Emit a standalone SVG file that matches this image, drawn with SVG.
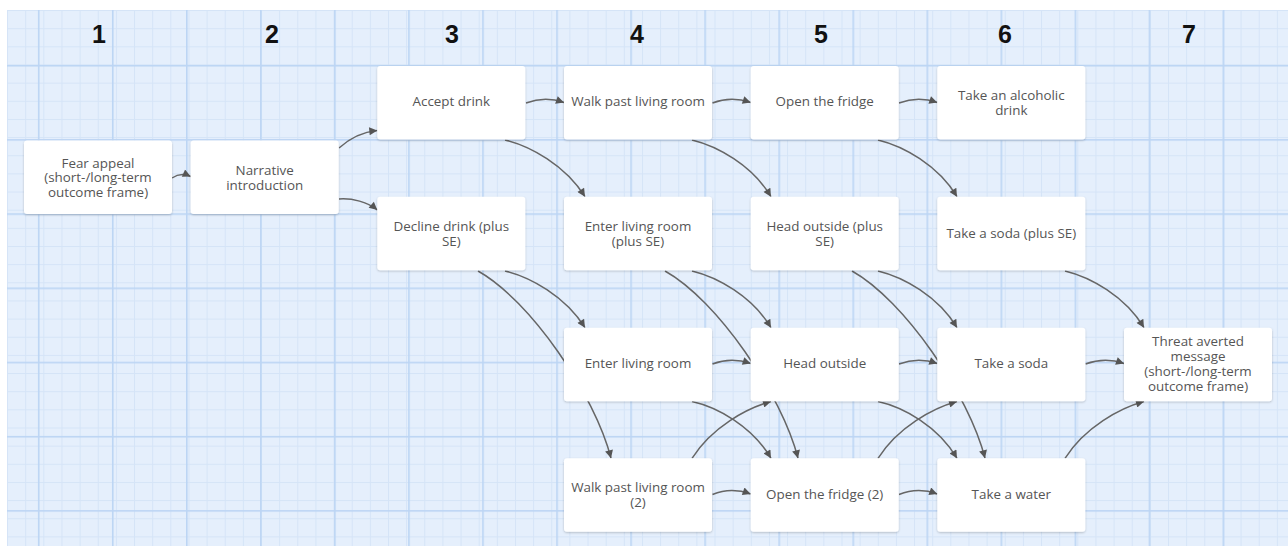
<svg xmlns="http://www.w3.org/2000/svg" width="1288" height="546" viewBox="0 0 1288 546">
<defs>
<style>
.hdr{font-family:"Liberation Sans",Arial,sans-serif;font-weight:bold;font-size:25px;fill:#111;text-anchor:middle}
.box{fill:#fff;filter:url(#sh)}
.lbl{font-family:"Open Sans","DejaVu Sans",sans-serif;font-size:13.4px;fill:#555;text-anchor:middle}
.cn path{fill:none;stroke:#666;stroke-width:1.5;marker-end:url(#ah)}
</style>
<filter id="sh" x="-10%" y="-10%" width="120%" height="130%">
<feDropShadow dx="0" dy="1" stdDeviation="0.8" flood-color="#000" flood-opacity="0.22"/>
</filter>
<marker id="ah" viewBox="0 0 10 10" refX="10" refY="5" markerUnits="userSpaceOnUse" markerWidth="10" markerHeight="8" orient="auto">
<path d="M0,0 L10,5 L0,10 z" fill="#555"/>
</marker>
<pattern id="minor" patternUnits="userSpaceOnUse" x="25.2" y="28.2" width="18.14" height="18.15">
<rect x="0" y="0" width="1" height="18.15" fill="#d5e4f7"/>
<rect x="0" y="0" width="18.14" height="1" fill="#d5e4f7"/>
</pattern>
<pattern id="major" patternUnits="userSpaceOnUse" x="37.9" y="64.9" width="74.05" height="74.2">
<rect x="0" y="0" width="1.6" height="74.2" fill="#bcd5f4"/>
<rect x="0" y="0" width="74.05" height="1.6" fill="#bcd5f4"/>
</pattern>
</defs>
<rect x="0" y="0" width="1288" height="546" fill="#ffffff"/>
<rect x="7" y="10" width="1281" height="536" fill="#e5effc"/>
<rect x="7" y="10" width="1281" height="536" fill="url(#minor)"/>
<rect x="7" y="10" width="1281" height="536" fill="url(#major)"/>

<g id="headers">
<text class="hdr" x="99" y="43">1</text>
<text class="hdr" x="272" y="43">2</text>
<text class="hdr" x="452" y="43">3</text>
<text class="hdr" x="637" y="43">4</text>
<text class="hdr" x="821" y="43">5</text>
<text class="hdr" x="1005" y="43">6</text>
<text class="hdr" x="1189" y="43">7</text>
</g>

<g id="connectors" class="cn">
<path d="M172,178 Q181,172 190.7,176.5"/>
<path d="M339,148 C350,138 362,132 377.3,130.5"/>
<path d="M339,199 C352,198 368,202 377.3,210"/>
<path d="M526,103 Q545,96 564,102.5"/>
<path d="M712.5,103 Q731,96 750.7,102.5"/>
<path d="M899,103 Q918,96 937.3,102.5"/>
<path d="M505,140 C530,146 565,165 585,196.7"/>
<path d="M692,140 C717,146 752,165 771,196.7"/>
<path d="M878,140 C903,146 938,165 957,196.7"/>
<path d="M505,271 C530,277 565,296 585,327.7"/>
<path d="M692,271 C717,277 752,296 771,327.7"/>
<path d="M878,271 C903,277 938,296 957,327.7"/>
<path d="M1065,271 C1090,277 1125,296 1144,327.7"/>
<path d="M478,271 C530,300 595,395 611,458.3"/>
<path d="M665,271 C717,300 782,395 798,458.3"/>
<path d="M852,271 C904,300 969,395 985,458.3"/>
<path d="M712.5,364 Q731,357 750.7,363.5"/>
<path d="M899,364 Q918,357 937.3,363.5"/>
<path d="M1085.5,364 Q1105,357 1124,363.5"/>
<path d="M692,401.5 C717,407 752,426 771,458.3"/>
<path d="M878,401.5 C903,407 938,426 957,458.3"/>
<path d="M692,458.3 C712,427 747,408 771,401.5"/>
<path d="M878,458.3 C898,427 933,408 957,401.5"/>
<path d="M1065,458.3 C1085,427 1120,408 1144,401.5"/>
<path d="M712.5,494.5 Q731,487 750.7,494"/>
<path d="M899,494.5 Q918,487 937.3,494"/>
</g>

<g id="n-fear"><rect class="box" x="24" y="140.5" width="148" height="73.5" rx="3"/>
<text class="lbl" x="98" y="167.7">Fear appeal<tspan x="98" dy="14.7">(short-/long-term</tspan><tspan x="98" dy="14.7">outcome frame)</tspan></text></g>
<g id="n-narrative"><rect class="box" x="190.7" y="140.5" width="148" height="73.5" rx="3"/>
<text class="lbl" x="264.7" y="174.7">Narrative<tspan x="264.7" dy="15">introduction</tspan></text></g>

<g id="n-accept"><rect class="box" x="377.3" y="66" width="148" height="73.5" rx="3"/>
<text class="lbl" x="451.3" y="106.4">Accept drink</text></g>
<g id="n-decline"><rect class="box" x="377.3" y="196.7" width="148" height="73.5" rx="3"/>
<text class="lbl" x="451.3" y="230.7">Decline drink (plus<tspan x="451.3" dy="15">SE)</tspan></text></g>

<g id="n-walkpast"><rect class="box" x="564" y="66" width="148" height="73.5" rx="3"/>
<text class="lbl" x="638" y="106.4">Walk past living room</text></g>
<g id="n-enterse"><rect class="box" x="564" y="196.7" width="148" height="73.5" rx="3"/>
<text class="lbl" x="638" y="230.7">Enter living room<tspan x="638" dy="15">(plus SE)</tspan></text></g>
<g id="n-enter"><rect class="box" x="564" y="327.7" width="148" height="73.5" rx="3"/>
<text class="lbl" x="638" y="368">Enter living room</text></g>
<g id="n-walkpast2"><rect class="box" x="564" y="458.3" width="148" height="73.5" rx="3"/>
<text class="lbl" x="638" y="491.6">Walk past living room<tspan x="638" dy="15">(2)</tspan></text></g>

<g id="n-fridge"><rect class="box" x="750.7" y="66" width="148" height="73.5" rx="3"/>
<text class="lbl" x="824.7" y="106.4">Open the fridge</text></g>
<g id="n-outsidese"><rect class="box" x="750.7" y="196.7" width="148" height="73.5" rx="3"/>
<text class="lbl" x="824.7" y="230.7">Head outside (plus<tspan x="824.7" dy="15">SE)</tspan></text></g>
<g id="n-outside"><rect class="box" x="750.7" y="327.7" width="148" height="73.5" rx="3"/>
<text class="lbl" x="824.7" y="368">Head outside</text></g>
<g id="n-fridge2"><rect class="box" x="750.7" y="458.3" width="148" height="73.5" rx="3"/>
<text class="lbl" x="824.7" y="498.8">Open the fridge (2)</text></g>

<g id="n-alcohol"><rect class="box" x="937.3" y="66" width="148" height="73.5" rx="3"/>
<text class="lbl" x="1011.3" y="99.7">Take an alcoholic<tspan x="1011.3" dy="15">drink</tspan></text></g>
<g id="n-sodase"><rect class="box" x="937.3" y="196.7" width="148" height="73.5" rx="3"/>
<text class="lbl" x="1011.3" y="237.7">Take a soda (plus SE)</text></g>
<g id="n-soda"><rect class="box" x="937.3" y="327.7" width="148" height="73.5" rx="3"/>
<text class="lbl" x="1011.3" y="368">Take a soda</text></g>
<g id="n-water"><rect class="box" x="937.3" y="458.3" width="148" height="73.5" rx="3"/>
<text class="lbl" x="1011.3" y="498.8">Take a water</text></g>

<g id="n-threat"><rect class="box" x="1124" y="327.7" width="148" height="73.5" rx="3"/>
<text class="lbl" x="1198" y="346.4">Threat averted<tspan x="1198" dy="15">message</tspan><tspan x="1198" dy="15">(short-/long-term</tspan><tspan x="1198" dy="15">outcome frame)</tspan></text></g>
</svg>
